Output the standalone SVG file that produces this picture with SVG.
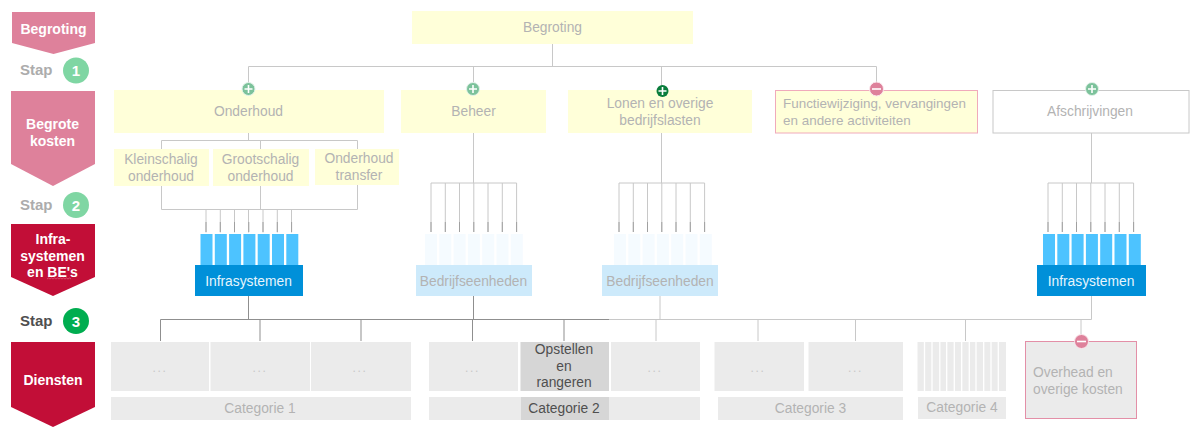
<svg xmlns="http://www.w3.org/2000/svg" width="1190" height="427" viewBox="0 0 1190 427">
<style>
text{font-family:"Liberation Sans",Arial,sans-serif;font-size:13.8px;text-anchor:middle;fill:#b3b3b3}
.b{font-weight:bold;fill:#fff;font-size:14px}
.s{font-weight:bold;font-size:15px;text-anchor:start;fill:#acacac}
.n{font-weight:bold;font-size:15px;fill:#fff}
.y{fill:#ffffd9}
.g{fill:#ebebeb}
.d{fill:#d6d6d6}
.c{fill:none;stroke:#c8c8c8;stroke-width:1}
.k{fill:none;stroke:#8f8f8f;stroke-width:1}
.m{fill:none;stroke:#a0a0a0;stroke-width:1}
.i{stroke:#fff;stroke-width:1.6;fill:none}
.dk{fill:#4f4f4f}
.l{text-anchor:start}
.e{fill:#c8c8c8;letter-spacing:1.6px;font-size:12px}
</style>
<defs>
<g id="cols-strong"><rect x="0" width="12" height="31" fill="#4dc3ff"/><rect x="14.3" width="12" height="31" fill="#4dc3ff"/><rect x="28.6" width="12" height="31" fill="#4dc3ff"/><rect x="42.9" width="12" height="31" fill="#4dc3ff"/><rect x="57.2" width="12" height="31" fill="#4dc3ff"/><rect x="71.5" width="12" height="31" fill="#4dc3ff"/><rect x="85.8" width="12" height="31" fill="#4dc3ff"/></g>
<g id="cols-pale"><rect x="0" width="12" height="31" fill="#f5fbff"/><rect x="14.3" width="12" height="31" fill="#f5fbff"/><rect x="28.6" width="12" height="31" fill="#f5fbff"/><rect x="42.9" width="12" height="31" fill="#f5fbff"/><rect x="57.2" width="12" height="31" fill="#f5fbff"/><rect x="71.5" width="12" height="31" fill="#f5fbff"/><rect x="85.8" width="12" height="31" fill="#f5fbff"/></g>
<path id="comb" d="M0 0H85.6M0 0V49M14.3 0V49M28.5 0V49M42.8 0V49M57 0V49M71.3 0V49M85.6 0V49"/>
<path id="tail" d="M0 0V10M14.3 0V10M28.5 0V10M42.8 0V10M57 0V10M71.3 0V10M85.6 0V10"/>
<path id="plus" d="M-4 0H4M0 -4V4"/>
<path id="minus" d="M-4.5 0H4.5"/>
</defs>

<g id="connectors">
<path class="c" d="M552.5 44V66.5M248.5 89V66.5H876.5V89M473.5 66.5V90M661.5 66.5V90"/>
<path class="c" d="M248.5 133V140.5M161.5 149V140.5H357.5V149M260.5 140.5V149"/>
<path class="c" d="M161.5 186V209.5H357.5V185M260.5 186V209.5"/>
<path class="c" d="M473.5 133V183M661.5 133V183M1091.5 133V183"/>
<path class="c" d="M206 210V232.5M220.3 210V232.5M234.5 210V232.5M248.5 210V232.5M263 210V232.5M277.3 210V232.5M291.5 210V232.5"/>
<use href="#comb" class="c" x="431" y="183"/>
<use href="#comb" class="c" x="619" y="183"/>
<use href="#comb" class="c" x="1048" y="183"/>
<use href="#tail" class="m" x="206" y="222"/>
<use href="#tail" class="m" x="431" y="222"/>
<use href="#tail" class="m" x="619" y="222"/>
<use href="#tail" class="m" x="1048" y="222"/>
<path class="c" d="M609 319.5H1091.5V296M656 319.5V341M660 296V319.5M758 319.5V341M855.5 319.5V341M965.5 319.5V341M1081 319.5V341"/>
<path class="k" d="M248.500 296V319.5M160.500 341V319.5H609M260 319.5V341M361 319.5V341M472.500 319.5V341M564 319.5V341M473.500 296V319.5"/>
</g>

<g id="step-begroting"><path fill="#de819b" d="M12 12H95V43L53.500 54L12 43Z"/><text class="b" x="53.500" y="33.500">Begroting</text></g>
<g id="stap-1"><text class="s" x="20" y="75">Stap</text><circle cx="76" cy="70.500" r="13" fill="#7fd6a3"/><text class="n" x="76" y="76">1</text></g>
<g id="step-begrote-kosten"><path fill="#de819b" d="M11 91H95V164L53 186L11 164Z"/><text class="b" x="52.500" y="129">Begrote</text><text class="b" x="52.500" y="146">kosten</text></g>
<g id="stap-2"><text class="s" x="20" y="210">Stap</text><circle cx="76" cy="205" r="13" fill="#7fd6a3"/><text class="n" x="76" y="210.500">2</text></g>
<g id="step-infra"><path fill="#c20e37" d="M11 224H95V277L53 296L11 277Z"/><text class="b" x="53" y="244">Infra-</text><text class="b" x="52.500" y="261">systemen</text><text class="b" x="52.500" y="277">en BE's</text><path d="M47 279l1.500-1 1.500 1 1.500-1 1.500 1 1.500-1 1.500 1 1.500-1 1.500 1 1.500-1 1.500 1 1.500-1 1.500 1 1.500-1 1.500 1 1.500-1 1.500 1" fill="none" stroke="#e8607c" stroke-width=".7"/></g>
<g id="stap-3"><text class="s" x="20" y="326" style="fill:#4f4f4f">Stap</text><circle cx="76" cy="321" r="13" fill="#00ad50"/><text class="n" x="76" y="326.500">3</text></g>
<g id="step-diensten"><path fill="#c20e37" d="M11 342H95V407L53 427L11 407Z"/><text class="b" x="53" y="385">Diensten</text></g>

<g id="begroting"><rect class="y" x="412" y="11" width="281" height="33"/><text x="552.500" y="32">Begroting</text></g>

<g id="onderhoud"><rect class="y" x="114" y="90" width="270" height="43"/><text x="248.500" y="116">Onderhoud</text><circle cx="248.500" cy="89" r="6.500" fill="#7cc29b" stroke="#e4f3ea"/><use href="#plus" class="i" x="248.500" y="89"/></g>
<g id="kleinschalig"><rect class="y" x="114" y="149" width="95" height="37"/><text x="161" y="164">Kleinschalig</text><text x="161" y="181">onderhoud</text></g>
<g id="grootschalig"><rect class="y" x="213" y="149" width="96" height="37"/><text x="260.500" y="164">Grootschalig</text><text x="260.500" y="181">onderhoud</text></g>
<g id="onderhoud-transfer"><rect class="y" x="315" y="149" width="84" height="36"/><text x="359" y="163">Onderhoud</text><text x="359" y="180">transfer</text></g>
<g id="beheer"><rect class="y" x="401" y="90" width="145" height="43"/><text x="473.500" y="116">Beheer</text><circle cx="473" cy="89" r="6.500" fill="#7cc29b" stroke="#e4f3ea"/><use href="#plus" class="i" x="473" y="89"/></g>
<g id="lonen"><rect class="y" x="568" y="90" width="184" height="43"/><text x="660" y="108">Lonen en overige</text><text x="660" y="125">bedrijfslasten</text><circle cx="662.500" cy="91" r="6" fill="#0a7d3c"/><use href="#plus" class="i" x="662.500" y="91"/></g>
<g id="functiewijziging"><rect x="775.500" y="90.500" width="202" height="42.500" fill="#ffffd9" stroke="#f0aabb"/><text class="l" x="783" y="108" style="font-size:13.45px">Functiewijziging, vervangingen</text><text class="l" x="783" y="125" style="font-size:13.45px">en andere activiteiten</text><circle cx="876.500" cy="89" r="7" fill="#de819b" stroke="#fbe9ee"/><use href="#minus" class="i" x="876.500" y="89"/></g>
<g id="afschrijvingen"><rect x="993" y="90.500" width="196" height="42.500" fill="#fff" stroke="#c8c8c8"/><text x="1090" y="116">Afschrijvingen</text><circle cx="1092" cy="89" r="6.500" fill="#7cc29b" stroke="#e4f3ea"/><use href="#plus" class="i" x="1092" y="89"/></g>

<g id="infra-1"><use href="#cols-strong" x="200.500" y="234"/><rect x="195" y="265" width="108" height="31" fill="#0090d9"/><text x="248.500" y="286" style="fill:#e6f5fd">Infrasystemen</text></g>
<g id="be-1"><use href="#cols-pale" x="425" y="234"/><rect x="416" y="265" width="116" height="31" fill="#cdeafb"/><text x="473.500" y="286">Bedrijfseenheden</text></g>
<g id="be-2"><use href="#cols-pale" x="614" y="234"/><rect x="602" y="265" width="116" height="31" fill="#cdeafb"/><text x="660" y="286">Bedrijfseenheden</text></g>
<g id="infra-2"><use href="#cols-strong" x="1043" y="234"/><rect x="1037" y="265" width="109" height="31" fill="#0090d9"/><text x="1091" y="286" style="fill:#e6f5fd">Infrasystemen</text></g>

<g id="categorie-1"><rect class="g" x="111" y="342" width="98" height="49"/><rect class="g" x="210.500" y="342" width="99.500" height="49"/><rect class="g" x="311" y="342" width="100" height="49"/><text class="e" x="160" y="372">...</text><text class="e" x="260" y="372">...</text><text class="e" x="360" y="372">...</text><rect class="g" x="111" y="397" width="300" height="23"/><text x="260" y="413">Categorie 1</text></g>
<g id="categorie-2"><rect class="g" x="429" y="342" width="89" height="49"/><rect class="d" x="520.500" y="342" width="88.500" height="49"/><rect class="g" x="611" y="342" width="89" height="49"/><text class="e" x="472.500" y="372">...</text><text class="dk" x="564" y="354">Opstellen</text><text class="dk" x="564" y="371">en</text><text class="dk" x="564" y="387">rangeren</text><text class="e" x="655" y="372">...</text><rect class="g" x="429" y="397" width="271" height="23"/><rect class="d" x="521" y="397" width="88" height="23"/><text class="dk" x="564" y="413">Categorie 2</text></g>
<g id="categorie-3"><rect class="g" x="714.500" y="342" width="89.500" height="49"/><rect class="g" x="808.500" y="342" width="94.500" height="49"/><text class="e" x="758" y="372">...</text><text class="e" x="855.500" y="372">...</text><rect class="g" x="718" y="397" width="185" height="23"/><text x="810.500" y="413">Categorie 3</text></g>
<g id="categorie-4"><rect class="g" x="917.500" y="342" width="88.500" height="49"/><path d="M924.500 342V391M932 342V391M939.800 342V391M946.700 342V391M954.300 342V391M961.700 342V391M969.300 342V391M976 342V391M983.700 342V391M991 342V391M998.300 342V391" stroke="#fff" stroke-width="1.300"/><rect class="g" x="918" y="397" width="88" height="22"/><text x="962" y="412">Categorie 4</text></g>
<g id="overhead"><rect x="1025.500" y="341.500" width="111" height="77" fill="#ebebeb" stroke="#e38fa7"/><text class="l" x="1033" y="377">Overhead en</text><text class="l" x="1033" y="394">overige kosten</text><circle cx="1081.500" cy="341.500" r="7" fill="#de819b" stroke="#fbe9ee"/><use href="#minus" class="i" x="1081.500" y="341.500"/></g>
</svg>
